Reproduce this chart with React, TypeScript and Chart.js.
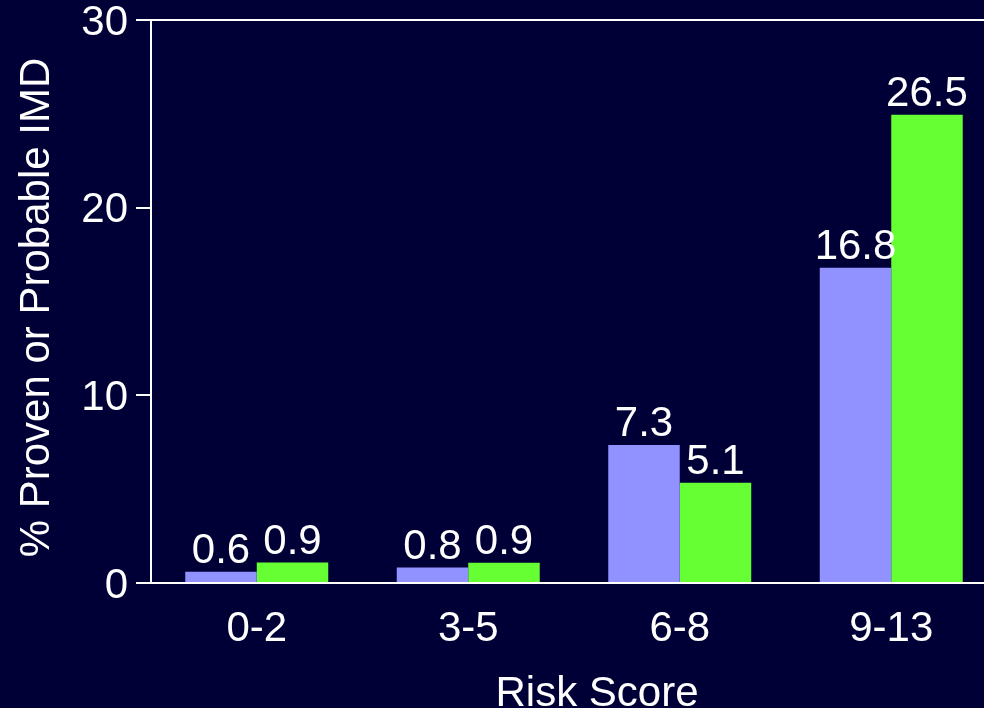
import React, { useEffect, useRef } from "react";
import { Chart, registerables } from "chart.js";

Chart.register(...registerables);

const categories = ["0-2", "3-5", "6-8", "9-13"];
// bar heights as drawn in the picture
const seriesA = [0.6, 0.82, 7.35, 16.8];
const seriesB = [1.09, 1.08, 5.34, 24.95];
// printed value labels
const labelsA = ["0.6", "0.8", "7.3", "16.8"];
const labelsB = ["0.9", "0.9", "5.1", "26.5"];
const yTicks = [0, 10, 20, 30];
const xTitle = "Risk Score";
const yTitle = "% Proven or Probable IMD";

const BG = "#000036";
const LAV = "#9191ff";
const GREEN = "#66ff33";
const FONT = "'Liberation Sans', Arial, sans-serif";

export default function App() {
  const ref = useRef<HTMLCanvasElement | null>(null);

  useEffect(() => {
    const canvas = ref.current;
    if (!canvas) return;
    const labelSets = [labelsA, labelsB];

    const valueLabels = {
      id: "valueLabels",
      afterDatasetsDraw(chart: any) {
        const ctx = chart.ctx;
        ctx.save();
        ctx.fillStyle = "#ffffff";
        ctx.font = `42px ${FONT}`;
        ctx.textAlign = "center";
        ctx.textBaseline = "alphabetic";
        chart.data.datasets.forEach((_ds: any, di: number) => {
          const meta = chart.getDatasetMeta(di);
          meta.data.forEach((bar: any, i: number) => {
            ctx.fillText(labelSets[di][i], bar.x, bar.y - 9);
          });
        });
        ctx.restore();
      },
    };

    const axisTitles = {
      id: "axisTitles",
      afterDraw(chart: any) {
        const ctx = chart.ctx;
        const a = chart.chartArea;
        ctx.save();
        ctx.fillStyle = "#ffffff";
        ctx.font = `42px ${FONT}`;
        ctx.textAlign = "center";
        ctx.textBaseline = "alphabetic";
        ctx.fillText(xTitle, a.left + 446, a.bottom + 123);
        ctx.translate(a.left - 102, (a.top + a.bottom) / 2 + 6);
        ctx.rotate(-Math.PI / 2);
        ctx.fillText(yTitle, 0, 0);
        ctx.restore();
      },
    };

    const chart = new Chart(canvas, {
      type: "bar",
      data: {
        labels: categories,
        datasets: [
          {
            data: seriesA,
            backgroundColor: LAV,
            borderWidth: 0,
            barPercentage: 1,
            categoryPercentage: 0.676,
          },
          {
            data: seriesB,
            backgroundColor: GREEN,
            borderWidth: 0,
            barPercentage: 1,
            categoryPercentage: 0.676,
          },
        ],
      },
      options: {
        responsive: false,
        animation: false,
        devicePixelRatio: 1,
        layout: { padding: { top: 20, left: 0, right: 0, bottom: 0 } },
        plugins: {
          legend: { display: false },
          tooltip: { enabled: false },
        },
        scales: {
          x: {
            grid: { display: false, drawTicks: false },
            border: { display: true, color: "#ffffff", width: 2 },
            ticks: {
              color: "#ffffff",
              font: { size: 42, family: FONT },
              padding: 21,
              maxRotation: 0,
            },
            afterFit(scale: any) {
              scale.height = 125;
              scale.paddingLeft = 0;
              scale.paddingRight = 0;
            },
          },
          y: {
            min: 0,
            max: 30,
            afterBuildTicks(scale: any) {
              scale.ticks = yTicks.map((v) => ({ value: v }));
            },
            grid: {
              display: true,
              drawOnChartArea: true,
              drawTicks: true,
              tickLength: 15,
              lineWidth: 2,
              tickColor: "#ffffff",
              color: (ctx: any) =>
                ctx.tick && ctx.tick.value === 30 ? "#ffffff" : "rgba(0,0,0,0)",
            },
            border: { display: true, color: "#ffffff", width: 2 },
            ticks: {
              color: "#ffffff",
              font: { size: 42, family: FONT },
              padding: 8,
              labelOffset: 3,
            },
            afterFit(scale: any) {
              scale.width = 151;
              scale.paddingTop = 0;
              scale.paddingBottom = 0;
            },
          },
        },
      },
      plugins: [valueLabels, axisTitles],
    });

    return () => chart.destroy();
  }, []);

  return (
    <div
      style={{
        position: "fixed",
        left: 0,
        top: 0,
        width: 984,
        height: 708,
        overflow: "hidden",
        background: BG,
      }}
    >
      <canvas
        ref={ref}
        width={997}
        height={708}
        style={{ display: "block", width: 997, height: 708 }}
      />
    </div>
  );
}
